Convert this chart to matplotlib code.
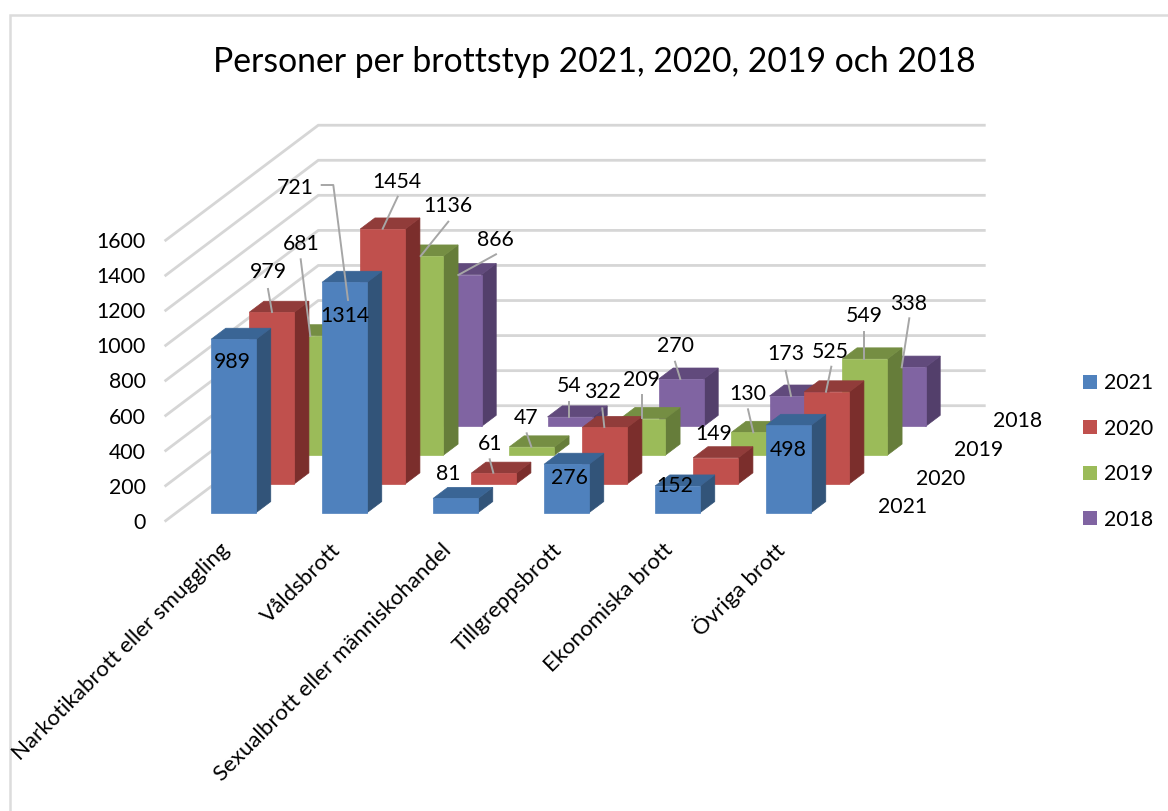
import matplotlib
matplotlib.use('Agg')
from matplotlib import pyplot as plt
from matplotlib.patches import Patch, Polygon

plt.rcParams['font.family'] = ['Lato', 'DejaVu Sans']

categories = ['Narkotikabrott eller smuggling', 'Våldsbrott', 'Sexualbrott eller människohandel',
              'Tillgreppsbrott', 'Ekonomiska brott', 'Övriga brott']
years = ['2021', '2020', '2019', '2018']
values_2021 = [989, 1314, 81, 276, 152, 498]
values_2020 = [979, 1454, 61, 322, 149, 525]
values_2019 = [681, 1136, 47, 209, 130, 549]
values_2018 = [721, 866, 54, 270, 173, 338]
series = [values_2021, values_2020, values_2019, values_2018]
y_ticks = [0, 200, 400, 600, 800, 1000, 1200, 1400, 1600]

# front, side, top
colors = [('#4F81BD', '#325479', '#3A6595'),
          ('#C0504D', '#7B2E2C', '#913C3A'),
          ('#9BBB59', '#667D3A', '#758E43'),
          ('#8064A2', '#533F6B', '#614A7C')]

# oblique projection, all in pixels
X0, Y0 = 165.7, 520.7
CAT_W = 111.0
PX_PER_UNIT = 0.1753
DEPTH_DX, DEPTH_DY = 38.15, 28.75
BAR_W = 45.0 / CAT_W
BAR_SHIFT = 1.7 / CAT_W
BAR_D = 0.385
D_FRONT = 0.28
GRID = '#D6D6D6'
LEADER = '#A6A6A6'
FS = 15.3
TEXT_DY = 2.5


def project(cat, value, depth):
    return (X0 + cat * CAT_W + depth * DEPTH_DX,
            Y0 - value * PX_PER_UNIT - depth * DEPTH_DY)


fig = plt.figure(figsize=(11.68, 8.11), dpi=100)
ax = fig.add_axes([0, 0, 1, 1])
ax.set_xlim(0, 1168)
ax.set_ylim(811, 0)
ax.axis('off')

# chart frame
ax.plot([9.5, 9.5, 1168], [811, 14.5, 14.5], color='#DCDCDC', lw=1.8, solid_joinstyle='miter')

# walls
n_cat = len(categories)
for v in y_ticks:
    xs = [project(0, v, 0)[0], project(0, v, 4)[0], project(n_cat, v, 4)[0]]
    ys = [project(0, v, 0)[1], project(0, v, 4)[1], project(n_cat, v, 4)[1]]
    ax.plot(xs, ys, color=GRID, lw=2.0, zorder=1, solid_joinstyle='miter')

# bars, back series first
z = 2
for s in range(len(series) - 1, -1, -1):
    d0 = s + D_FRONT
    d1 = d0 + BAR_D
    front, side, top = colors[s]
    for c in range(n_cat - 1, -1, -1):
        v = series[s][c]
        c0 = c + (1 - BAR_W) / 2 + BAR_SHIFT
        c1 = c0 + BAR_W
        ax.add_patch(Polygon([project(c1, 0, d0), project(c1, 0, d1), project(c1, v, d1), project(c1, v, d0)],
                             fc=side, ec=side, lw=0.5, zorder=z))
        ax.add_patch(Polygon([project(c0, v, d0), project(c1, v, d0), project(c1, v, d1), project(c0, v, d1)],
                             fc=top, ec=top, lw=0.5, zorder=z))
        ax.add_patch(Polygon([project(c0, 0, d0), project(c1, 0, d0), project(c1, v, d0), project(c0, v, d0)],
                             fc=front, ec=front, lw=0.5, zorder=z))
        z += 1

# value labels: series, category, label centre, leader points
labels = [
    (0, 0, (232, 360), None),
    (0, 1, (345, 314), None),
    (0, 2, (448, 471), None),
    (0, 3, (569, 475), None),
    (0, 4, (675, 484), None),
    (0, 5, (788, 448), None),
    (1, 0, (268, 270), [(268, 289), (272, 312)]),
    (1, 1, (397, 179), [(397.7, 196.7), (382.7, 228.7)]),
    (1, 2, (490, 442), [(489.7, 459.3), (493.3, 472.7)]),
    (1, 3, (602, 389), [(602.3, 408.3), (604.3, 427)]),
    (1, 4, (714, 431), None),
    (1, 5, (830, 349), [(831.3, 366.7), (826, 391.7)]),
    (2, 0, (301, 242), [(300.7, 259.3), (310.3, 336)]),
    (2, 1, (448, 204), [(448.3, 221.7), (420.7, 256)]),
    (2, 2, (526, 415), [(526.7, 433.3), (531.3, 446.7)]),
    (2, 3, (642, 377), [(642.3, 395.3), (642.3, 418)]),
    (2, 4, (748, 391), [(748, 409.3), (753.3, 432.3)]),
    (2, 5, (864, 313), [(864, 331.7), (864, 359)]),
    (3, 0, (295, 185.5), [(321.7, 185), (333.3, 185), (348, 300)]),
    (3, 1, (495, 237), [(496, 254.3), (458.3, 275)]),
    (3, 2, (569, 384), [(569.3, 401.7), (569.3, 416.7)]),
    (3, 3, (675, 343), [(675, 361.7), (680.3, 379)]),
    (3, 4, (786, 352), [(785.7, 371), (791, 396)]),
    (3, 5, (909, 301), [(909.3, 318.3), (901.7, 367.3)]),
]
for s, c, pos, leader in labels:
    if leader:
        ax.plot([p[0] for p in leader], [p[1] for p in leader], color=LEADER, lw=1.4, zorder=500)
    ax.text(pos[0], pos[1] + TEXT_DY, str(series[s][c]), fontsize=FS, ha='center', va='center', color='black', zorder=600)

# axis labels
for v in y_ticks:
    ax.text(146, project(0, v, 0)[1] - 1.5 + TEXT_DY + 1, str(v), fontsize=FS, ha='right', va='center')
for i, name in enumerate(years):
    x, y = project(n_cat, 0, i + 0.5)
    ax.text(x + 52, y + 1, name, fontsize=FS, ha='center', va='center')
for c, name in enumerate(categories):
    ax.text(project(c + 0.5, 0, 0)[0] + 5, 547, name, fontsize=16, rotation=45,
            rotation_mode='anchor', ha='right', va='center')

ax.text(594, 62, 'Personer per brottstyp 2021, 2020, 2019 och 2018', fontsize=24.3, ha='center', va='center')

handles = [Patch(facecolor=colors[i][0], label=years[i]) for i in range(len(years))]
ax.legend(handles=handles, loc='center left', bbox_to_anchor=(1064 / 1168, 1 - 451.5 / 811), frameon=False,
          fontsize=FS, handlelength=0.66, handleheight=0.66, handletextpad=0.3, labelspacing=1.2)

fig.savefig('out.png', dpi=100)
